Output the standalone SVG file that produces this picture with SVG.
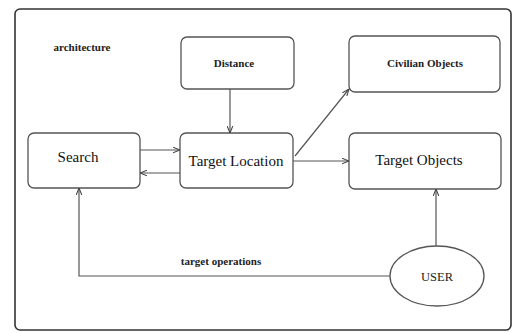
<svg xmlns="http://www.w3.org/2000/svg" width="512" height="333" viewBox="0 0 512 333">
<style>
.box{fill:#fff;stroke:#555;stroke-width:1.3}
.frame{fill:#fff;stroke:#333;stroke-width:1.6}
.big{font-family:"Liberation Serif",serif;font-size:15px;fill:#111;text-anchor:middle}
.small{font-family:"Liberation Serif",serif;font-size:11px;font-weight:bold;fill:#222;text-anchor:middle}
.mid{font-family:"Liberation Serif",serif;font-size:12.5px;fill:#222;text-anchor:middle}
.edge{fill:none;stroke:#555;stroke-width:1.2}
</style>
<defs>
<marker id="arr" viewBox="0 0 10 10" refX="10" refY="5" markerWidth="7" markerHeight="7" orient="auto" markerUnits="userSpaceOnUse">
<path d="M0,1 L10,5 L0,9" fill="none" stroke="#444" stroke-width="1.5"/>
</marker>
</defs>
<rect width="512" height="333" fill="#fff"/>
<rect class="frame" x="15" y="9" width="496" height="321" rx="5"/>
<text class="small" x="82" y="51">architecture</text>
<g id="distance"><rect class="box" x="181" y="37" width="113" height="52" rx="6"/><text class="small" x="234" y="67">Distance</text></g>
<g id="civilian"><rect class="box" x="349" y="36" width="151" height="56" rx="6"/><text class="small" x="425" y="67">Civilian Objects</text></g>
<g id="search"><rect class="box" x="28" y="133" width="112" height="55" rx="6"/><text class="big" x="78" y="162">Search</text></g>
<g id="target-location"><rect class="box" x="180" y="133" width="113" height="55" rx="6"/><text class="big" x="236" y="166">Target Location</text></g>
<g id="target-objects"><rect class="box" x="349" y="133" width="152" height="56" rx="6"/><text class="big" x="419" y="165">Target Objects</text></g>
<g id="user"><ellipse class="box" cx="437" cy="276" rx="47" ry="30"/><text class="mid" x="437" y="281">USER</text></g>
<g id="connectors">
<line class="edge" x1="230" y1="89" x2="230" y2="133" marker-end="url(#arr)"/>
<line class="edge" x1="140" y1="150" x2="180" y2="150" marker-end="url(#arr)"/>
<line class="edge" x1="180" y1="173" x2="140" y2="173" marker-end="url(#arr)"/>
<line class="edge" x1="295" y1="156" x2="349" y2="89" marker-end="url(#arr)"/>
<line class="edge" x1="293" y1="161" x2="349" y2="161" marker-end="url(#arr)"/>
<line class="edge" x1="436" y1="246" x2="436" y2="189" marker-end="url(#arr)"/>
<polyline class="edge" points="390,276 79,276 79,188" marker-end="url(#arr)"/>
<text class="small" x="221" y="265">target operations</text>
</g>
</svg>
